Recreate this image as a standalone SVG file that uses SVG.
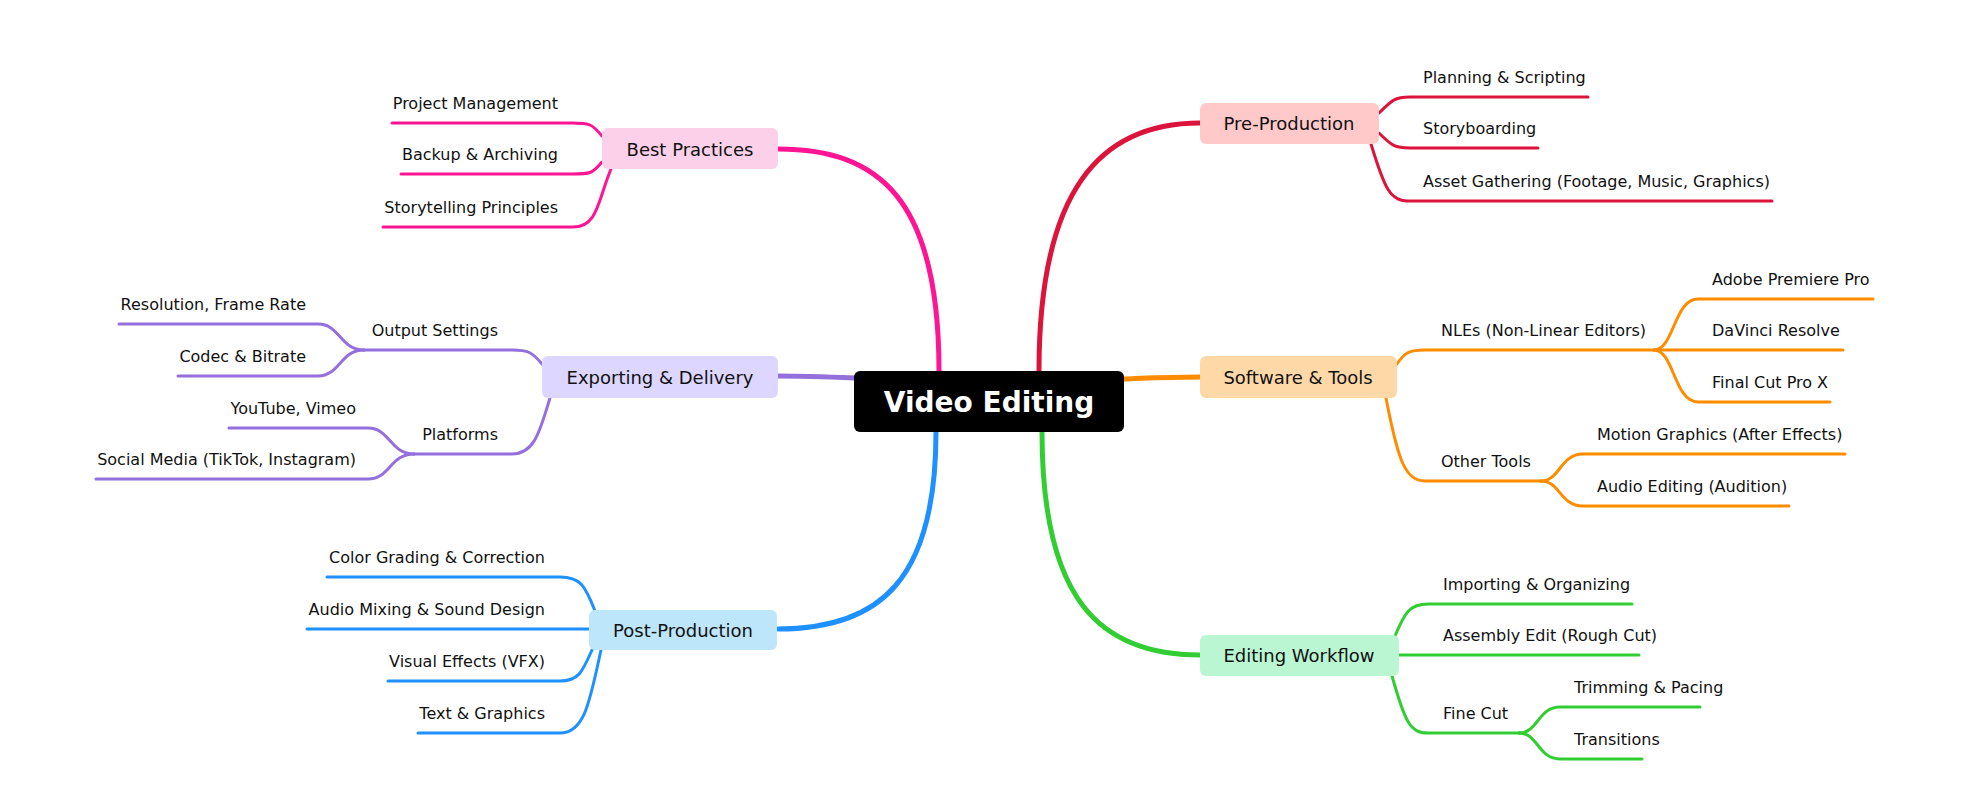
<svg xmlns="http://www.w3.org/2000/svg" width="1968" height="804" viewBox="0 0 1968 804">
<style>
text{font-family:"DejaVu Sans",sans-serif;fill:#111}
.leaf{font-size:16px}
.lab{font-size:18px;text-anchor:middle;dominant-baseline:central}
.e{text-anchor:end}
path{fill:none;stroke-linecap:round}
.m{stroke-width:5}
.l{stroke-width:3}
.red{stroke:#dc143c}.org{stroke:#ff8c00}.grn{stroke:#32cd32}.pnk{stroke:#ff1493}.pur{stroke:#9370db}.blu{stroke:#1e90ff}
</style>
<rect width="1968" height="804" fill="#fff"/>
<g id="connectors">
<path class="m red" d="M1039,371 C1039,190 1100,123 1200,123"/>
<path class="m org" d="M1123,379 C1150,378 1170,377 1200,377"/>
<path class="m grn" d="M1042,432 C1042,600 1100,655 1200,655"/>
<path class="m pnk" d="M939,371 C939,200 880,149 778,149"/>
<path class="m pur" d="M855,378 C830,377 800,376 778,376"/>
<path class="m blu" d="M936,432 C936,580 880,629 778,629"/>
<path class="l red" d="M1379,113 C1392,100 1395,97 1410,97 H1588"/>
<path class="l red" d="M1379,133 C1392,146 1395,148 1410,148 H1538"/>
<path class="l red" d="M1371,144 C1385,190 1390,201 1410,201 H1772"/>
<path class="l org" d="M1397,364 C1405,352 1410,350 1425,350 H1654"/>
<path class="l org" d="M1654,350 C1674,350 1674,299 1698,299 H1873"/>
<path class="l org" d="M1654,350 H1843"/>
<path class="l org" d="M1654,350 C1674,350 1674,402 1698,402 H1830"/>
<path class="l org" d="M1386,398 C1398,460 1405,481 1425,481 H1541"/>
<path class="l org" d="M1541,481 C1560,481 1560,454 1583,454 H1845"/>
<path class="l org" d="M1541,481 C1560,481 1560,506 1583,506 H1789"/>
<path class="l grn" d="M1395,636 C1405,612 1410,604 1428,604 H1632"/>
<path class="l grn" d="M1399,655 H1639"/>
<path class="l grn" d="M1392,676 C1405,722 1410,733 1428,733 H1519"/>
<path class="l grn" d="M1519,733 C1538,733 1538,707 1560,707 H1700"/>
<path class="l grn" d="M1519,733 C1538,733 1538,759 1560,759 H1642"/>
<path class="l pnk" d="M602,136 C592,124 590,123 572,123 H392"/>
<path class="l pnk" d="M602,162 C592,174 590,174 572,174 H401"/>
<path class="l pnk" d="M611,169 C598,200 598,227 573,227 H383"/>
<path class="l pur" d="M542,364 C532,352 528,350 512,350 H364"/>
<path class="l pur" d="M364,350 C340,350 340,324 318,324 H119"/>
<path class="l pur" d="M364,350 C340,350 340,376 318,376 H178"/>
<path class="l pur" d="M550,398 C540,430 535,454 512,454 H414"/>
<path class="l pur" d="M414,454 C390,454 390,428 368,428 H229"/>
<path class="l pur" d="M414,454 C390,454 390,479 368,479 H96"/>
<path class="l blu" d="M595,611 C585,585 580,577 560,577 H327"/>
<path class="l blu" d="M589,629 H307"/>
<path class="l blu" d="M592,650 C582,673 578,681 560,681 H388"/>
<path class="l blu" d="M601,650 C590,700 585,733 560,733 H418"/>
</g>
<g id="center"><rect x="854" y="371" width="270" height="61" rx="6" fill="#000"/><text x="989" y="402" style="font-size:28px;font-weight:bold;fill:#fff;text-anchor:middle;dominant-baseline:central">Video Editing</text></g>
<g id="pre"><rect x="1200" y="103" width="179" height="41" rx="6" fill="#ffc9c9"/><text class="lab" x="1289" y="123">Pre-Production</text></g>
<g id="soft"><rect x="1200" y="356" width="197" height="42" rx="6" fill="#ffd8a8"/><text class="lab" x="1298" y="377">Software &amp; Tools</text></g>
<g id="edit"><rect x="1200" y="635" width="199" height="41" rx="6" fill="#b9f6d1"/><text class="lab" x="1299" y="655">Editing Workflow</text></g>
<g id="best"><rect x="602" y="128" width="176" height="41" rx="6" fill="#fbd0e8"/><text class="lab" x="690" y="149">Best Practices</text></g>
<g id="exp"><rect x="542" y="356" width="236" height="42" rx="6" fill="#ddd6fe"/><text class="lab" x="660" y="377">Exporting &amp; Delivery</text></g>
<g id="post"><rect x="589" y="610" width="188" height="40" rx="6" fill="#bde6fb"/><text class="lab" x="683" y="630">Post-Production</text></g>
<g id="leaves" class="leaf">
<text class="leaf" x="1423" y="83">Planning &amp; Scripting</text>
<text class="leaf" x="1423" y="134">Storyboarding</text>
<text class="leaf" x="1423" y="187">Asset Gathering (Footage, Music, Graphics)</text>
<text class="leaf" x="1441" y="336">NLEs (Non-Linear Editors)</text>
<text class="leaf" x="1712" y="285">Adobe Premiere Pro</text>
<text class="leaf" x="1712" y="336">DaVinci Resolve</text>
<text class="leaf" x="1712" y="388">Final Cut Pro X</text>
<text class="leaf" x="1441" y="467">Other Tools</text>
<text class="leaf" x="1597" y="440">Motion Graphics (After Effects)</text>
<text class="leaf" x="1597" y="492">Audio Editing (Audition)</text>
<text class="leaf" x="1443" y="590">Importing &amp; Organizing</text>
<text class="leaf" x="1443" y="641">Assembly Edit (Rough Cut)</text>
<text class="leaf" x="1443" y="719">Fine Cut</text>
<text class="leaf" x="1574" y="693">Trimming &amp; Pacing</text>
<text class="leaf" x="1574" y="745">Transitions</text>
<text class="leaf e" x="558" y="109">Project Management</text>
<text class="leaf e" x="558" y="160">Backup &amp; Archiving</text>
<text class="leaf e" x="558" y="213">Storytelling Principles</text>
<text class="leaf e" x="498" y="336">Output Settings</text>
<text class="leaf e" x="306" y="310">Resolution, Frame Rate</text>
<text class="leaf e" x="306" y="362">Codec &amp; Bitrate</text>
<text class="leaf e" x="498" y="440">Platforms</text>
<text class="leaf e" x="356" y="414">YouTube, Vimeo</text>
<text class="leaf e" x="356" y="465">Social Media (TikTok, Instagram)</text>
<text class="leaf e" x="545" y="563">Color Grading &amp; Correction</text>
<text class="leaf e" x="545" y="615">Audio Mixing &amp; Sound Design</text>
<text class="leaf e" x="545" y="667">Visual Effects (VFX)</text>
<text class="leaf e" x="545" y="719">Text &amp; Graphics</text>
</g>
</svg>
